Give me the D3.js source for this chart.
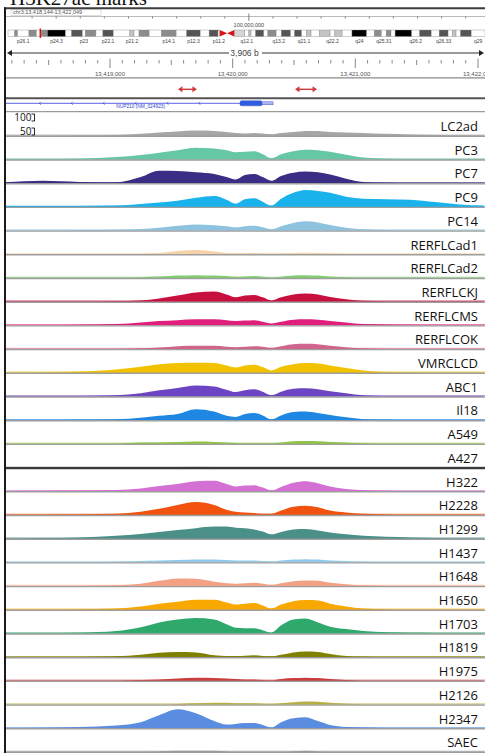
<!DOCTYPE html>
<html>
<head>
<meta charset="utf-8">
<script src="https://cdn.jsdelivr.net/npm/d3@7/dist/d3.min.js"></script>
<style>
  body { margin: 0; background: #fff; }
  svg { display: block; }
</style>
</head>
<body>
<script>
'use strict'

// view window on chr3
var viewStart = 13418144
var viewEnd = 13422049
var locusText = 'chr3:13,418,144-13,422,049'
var widthText = '3,906 b'
var rulerLabels = [13419000, 13420000, 13421000, 13422000]
var chromLength = 198.02 // Mb

// cytobands of chr3 (Mb)
var cytobands = [
  ['p26.3', 0, 2.8, 'gneg'], ['p26.2', 2.8, 4.0, 'gpos50'], ['p26.1', 4.0, 8.7, 'gneg'],
  ['p25.3', 8.7, 11.8, 'gpos50'], ['p25.2', 11.8, 13.3, 'gneg'], ['p25.1', 13.3, 16.4, 'gpos50'],
  ['p24.3', 16.4, 23.9, 'gpos100'], ['p24.2', 23.9, 26.4, 'gneg'], ['p24.1', 26.4, 30.9, 'gpos75'],
  ['p23', 30.9, 32.1, 'gneg'], ['p22.3', 32.1, 36.5, 'gpos50'], ['p22.2', 36.5, 39.4, 'gneg'],
  ['p22.1', 39.4, 43.7, 'gpos75'], ['p21.31', 43.7, 50.6, 'gneg'], ['p21.2', 50.6, 52.3, 'gpos25'],
  ['p21.1', 52.3, 54.4, 'gneg'], ['p14.3', 54.4, 58.6, 'gpos50'], ['p14.2', 58.6, 63.7, 'gneg'],
  ['p14.1', 63.7, 69.8, 'gpos50'], ['p13', 69.8, 74.2, 'gneg'], ['p12.3', 74.2, 79.8, 'gpos75'],
  ['p12.2', 79.8, 83.5, 'gneg'], ['p12.1', 83.5, 87.2, 'gpos75'], ['p11.2', 87.2, 87.9, 'gneg'],
  ['p11.1', 87.9, 91.0, 'acen'], ['q11.1', 91.0, 93.9, 'acen'], ['q11.2', 93.9, 98.3, 'gvar'],
  ['q12.1', 98.3, 100.0, 'gneg'], ['q12.2', 100.0, 100.9, 'gpos25'], ['q12.3', 100.9, 102.8, 'gneg'],
  ['q13.11', 102.8, 106.2, 'gpos75'], ['q13.12', 106.2, 107.9, 'gneg'], ['q13.13', 107.9, 111.3, 'gpos50'],
  ['q13.2', 111.3, 113.5, 'gneg'], ['q13.31', 113.5, 117.3, 'gpos75'], ['q13.32', 117.3, 119.0, 'gneg'],
  ['q13.33', 119.0, 121.9, 'gpos75'], ['q21.1', 121.9, 123.8, 'gneg'], ['q21.2', 123.8, 125.8, 'gpos25'],
  ['q21.3', 125.8, 129.2, 'gneg'], ['q22.1', 129.2, 133.7, 'gpos25'], ['q22.2', 133.7, 135.7, 'gneg'],
  ['q22.3', 135.7, 138.7, 'gpos25'], ['q23', 138.7, 142.8, 'gneg'], ['q24', 142.8, 148.9, 'gpos100'],
  ['q25.1', 148.9, 152.1, 'gneg'], ['q25.2', 152.1, 155.0, 'gpos50'], ['q25.31', 155.0, 157.0, 'gneg'],
  ['q25.32', 157.0, 159.0, 'gpos50'], ['q25.33', 159.0, 160.7, 'gneg'], ['q26.1', 160.7, 167.6, 'gpos100'],
  ['q26.2', 167.6, 170.9, 'gneg'], ['q26.31', 170.9, 175.7, 'gpos75'], ['q26.32', 175.7, 179.0, 'gneg'],
  ['q26.33', 179.0, 182.7, 'gpos75'], ['q27.1', 182.7, 184.5, 'gneg'], ['q27.2', 184.5, 186.0, 'gpos25'],
  ['q27.3', 186.0, 187.9, 'gneg'], ['q28', 187.9, 192.3, 'gpos75'], ['q29', 192.3, 198.02, 'gneg']
]
var bandLabels = ['p26.1', 'p24.3', 'p23', 'p22.1', 'p21.2', 'p14.1', 'p12.3', 'p11.2', 'q12.1',
  'q13.2', 'q21.1', 'q22.2', 'q24', 'q25.31', 'q26.2', 'q26.33', 'q29']

// peaks (red arrows) and gene model
var peakRegions = [[13419554, 13419709], [13420508, 13420688]]
var geneName = 'NUP210 (NM_024923)'
var geneSpan = [13418144, 13420329]
var geneExons = [[13420060, 13420239, 'cds'], [13420239, 13420329, 'utr']]

// sample positions of the signal (bp)
var positions = [13418150, 13418450, 13418750, 13419050, 13419250, 13419400, 13419550, 13419700,
  13419850, 13419950, 13420025, 13420100, 13420175, 13420245, 13420315, 13420395, 13420495,
  13420595, 13420695, 13420795, 13420925, 13421065, 13421250, 13421450, 13421650, 13421850, 13422045]

var cellLines = ['LC2ad', 'PC3', 'PC7', 'PC9', 'PC14', 'RERFLCad1', 'RERFLCad2', 'RERFLCKJ',
  'RERFLCMS', 'RERFLCOK', 'VMRCLCD', 'ABC1', 'Il18', 'A549', 'A427', 'H322', 'H2228', 'H1299',
  'H1437', 'H1648', 'H1650', 'H1703', 'H1819', 'H1975', 'H2126', 'H2347', 'SAEC']

var LC2ad = [0, 0, 1, 2, 7, 13, 18, 22, 20, 15, 11, 9, 11, 9, 5, 11, 15, 20, 20, 15, 13, 11, 7, 4, 2, 1, 1]
var PC3 = [0, 0, 2, 9, 18, 29, 40, 51, 48, 40, 31, 33, 35, 22, 4, 22, 35, 42, 40, 33, 20, 7, 2, 1, 0, 0, 0]
var PC7 = [2, 9, 4, 2, 26, 55, 53, 48, 40, 26, 15, 35, 40, 26, 9, 31, 46, 51, 48, 37, 18, 4, 1, 0, 0, 0, 0]
var PC9 = [2, 2, 2, 4, 11, 18, 26, 40, 48, 31, 13, 33, 37, 22, 4, 35, 62, 75, 70, 62, 44, 35, 33, 31, 20, 9, 4]
var PC14 = [0, 0, 1, 2, 5, 11, 20, 26, 22, 18, 13, 18, 20, 13, 4, 18, 33, 40, 35, 24, 11, 4, 1, 0, 0, 0, 0]
var RERFLCad1 = [0, 0, 0, 0, 0, 4, 13, 18, 11, 4, 2, 4, 4, 2, 1, 2, 4, 5, 4, 2, 0, 0, 0, 0, 0, 0, 0]
var RERFLCad2 = [0, 0, 0, 0, 2, 5, 9, 11, 9, 7, 4, 5, 7, 4, 1, 4, 9, 11, 9, 5, 2, 0, 0, 0, 0, 0, 0]
var RERFLCKJ = [0, 0, 0, 1, 4, 13, 26, 40, 44, 31, 18, 26, 29, 18, 4, 18, 31, 35, 31, 20, 9, 2, 0, 0, 0, 0, 0]
var RERFLCMS = [0, 0, 1, 4, 11, 18, 22, 26, 26, 22, 18, 20, 22, 15, 7, 15, 24, 26, 24, 18, 11, 4, 2, 1, 0, 0, 0]
var RERFLCOK = [0, 0, 0, 0, 2, 5, 11, 13, 13, 9, 7, 9, 11, 9, 4, 11, 20, 22, 20, 13, 7, 2, 0, 0, 0, 0, 0]
var VMRCLCD = [0, 1, 4, 13, 26, 37, 42, 44, 42, 31, 22, 31, 35, 24, 9, 26, 37, 42, 40, 31, 20, 9, 2, 1, 0, 0, 0]
var ABC1 = [0, 0, 1, 4, 13, 26, 37, 48, 44, 29, 18, 26, 31, 20, 4, 20, 33, 35, 31, 22, 13, 4, 1, 0, 0, 0, 0]
var Il18 = [0, 0, 1, 2, 9, 18, 26, 48, 37, 18, 13, 26, 31, 20, 2, 20, 35, 37, 31, 22, 11, 3, 1, 0, 0, 0, 0]
var A549 = [0, 0, 0, 0, 4, 5, 7, 9, 7, 4, 2, 1, 1, 1, 1, 4, 10, 11, 10, 7, 4, 1, 0, 0, 0, 0, 0]
var A427 = [0, 0, 0, 0, 0, 0, 1, 2, 1, 0, 0, 0, 0, 0, 0, 0, 0, 1, 0, 0, 0, 0, 0, 0, 0, 0, 0]
var H322 = [0, 1, 2, 4, 11, 22, 31, 44, 46, 31, 20, 24, 26, 15, 2, 18, 37, 44, 35, 20, 9, 4, 1, 0, 0, 0, 0]
var H2228 = [0, 1, 2, 4, 13, 26, 44, 57, 44, 22, 13, 9, 7, 4, 4, 18, 35, 40, 33, 18, 9, 4, 2, 1, 0, 0, 0]
var H1299 = [0, 1, 4, 11, 20, 29, 37, 46, 53, 53, 48, 46, 40, 31, 18, 29, 40, 42, 35, 26, 18, 11, 7, 4, 1, 0, 0]
var H1437 = [0, 0, 0, 1, 4, 7, 9, 11, 11, 9, 7, 7, 7, 4, 2, 7, 11, 13, 11, 7, 4, 1, 0, 0, 0, 0, 0]
var H1648 = [0, 0, 0, 2, 9, 22, 33, 31, 18, 11, 9, 11, 13, 9, 4, 11, 20, 24, 22, 13, 7, 2, 0, 0, 0, 0, 0]
var H1650 = [0, 0, 1, 4, 13, 26, 35, 44, 44, 31, 22, 26, 29, 18, 4, 22, 37, 42, 40, 26, 13, 4, 1, 0, 0, 0, 0]
var H1703 = [0, 1, 2, 9, 26, 48, 62, 68, 62, 40, 24, 22, 22, 13, 2, 35, 62, 66, 48, 29, 18, 9, 4, 2, 1, 0, 0]
var H1819 = [0, 0, 0, 2, 9, 18, 22, 20, 7, 4, 4, 5, 7, 4, 2, 9, 20, 24, 22, 13, 4, 1, 0, 0, 0, 0, 0]
var H1975 = [0, 0, 0, 0, 2, 5, 9, 12, 11, 9, 7, 5, 4, 2, 1, 7, 11, 13, 11, 7, 2, 0, 0, 0, 0, 0, 0]
var H2126 = [0, 0, 0, 0, 0, 0, 1, 4, 7, 7, 4, 4, 4, 2, 1, 4, 9, 12, 11, 7, 2, 0, 0, 0, 0, 0, 0]
var H2347 = [0, 1, 4, 11, 26, 57, 84, 66, 31, 15, 18, 22, 22, 13, 2, 26, 44, 48, 31, 13, 4, 2, 0, 0, 0, 0, 0]
var SAEC = [0, 0, 0, 0, 1, 2, 4, 4, 4, 2, 0, 0, 0, 0, 0, 0, 2, 4, 2, 0, 0, 0, 0, 0, 0, 0, 0]

var signals = [LC2ad, PC3, PC7, PC9, PC14, RERFLCad1, RERFLCad2, RERFLCKJ, RERFLCMS, RERFLCOK,
  VMRCLCD, ABC1, Il18, A549, A427, H322, H2228, H1299, H1437, H1648, H1650, H1703, H1819, H1975,
  H2126, H2347, SAEC]

var trackColors = ['#a6a6a6', '#66c7a4', '#3a2d85', '#19b2ea', '#8ec3df', '#f6d2a8', '#80cf6e',
  '#c8103e', '#e01f7d', '#d0668d', '#f2c200', '#6b45c2', '#1e86e3', '#8fc446', '#b0b0b0',
  '#d46fd4', '#f2520f', '#4a8f88', '#92c9ea', '#f2a184', '#f9a800', '#2fa96b', '#7f7f00',
  '#c93e3e', '#b9ae45', '#5a8de0', '#9a9a9a']
var stainColors = { gneg: '#ffffff', gpos25: '#c4c4c4', gpos50: '#8c8c8c', gpos75: '#555555', gpos100: '#000000', gvar: '#d6d6d6' }

var W = 485
var H = 753
var top0 = 112.3
var trackH = 23.7

var svg = d3.select('body').append('svg')
  .attr('width', W)
  .attr('height', H)

var x = d3.scaleLinear().domain([viewStart, viewEnd]).range([5, 484])
var ideoX = d3.scaleLinear().domain([0, chromLength]).range([8, 485])

// title, cut off at the top as in the source figure
svg.append('text')
  .attr('x', 10).attr('y', 5)
  .attr('font-family', 'Liberation Serif, serif')
  .attr('font-size', 21)
  .attr('fill', '#111')
  .text('H3K27ac marks')

// locus row
svg.append('rect')
  .attr('x', 11).attr('y', 9.8).attr('width', 90).attr('height', 5.6)
  .attr('fill', 'none').attr('stroke', '#bbb').attr('stroke-width', 0.5)
svg.append('text')
  .attr('x', 13).attr('y', 14)
  .attr('font-family', 'Liberation Sans, sans-serif')
  .attr('font-size', 5.5)
  .attr('fill', '#555')
  .text(locusText)
svg.append('line').attr('x1', 5).attr('x2', W).attr('y1', 16.5).attr('y2', 16.5)
  .attr('stroke', '#aaa').attr('stroke-width', 0.8)

var ideo = svg.append('g')
ideo.selectAll('.mtick')
  .data(d3.range(10, 200, 10))
  .enter().append('line')
  .attr('x1', function (d) { return ideoX(d) })
  .attr('x2', function (d) { return ideoX(d) })
  .attr('y1', function (d) { return d === 100 ? 13.5 : 16.5 })
  .attr('y2', function (d) { return d === 100 ? 21 : 18.5 })
  .attr('stroke', '#666').attr('stroke-width', 0.8)
ideo.append('text')
  .attr('x', ideoX(100)).attr('y', 27)
  .attr('text-anchor', 'middle')
  .attr('font-family', 'Liberation Sans, sans-serif')
  .attr('font-size', 5.5).attr('fill', '#444')
  .text('100,000,000')

// ideogram bands
ideo.selectAll('.band')
  .data(cytobands.filter(function (b) { return b[3] !== 'acen' }))
  .enter().append('rect')
  .attr('x', function (b) { return ideoX(b[1]) })
  .attr('width', function (b) { return ideoX(b[2]) - ideoX(b[1]) })
  .attr('y', 30).attr('height', 6.5)
  .attr('fill', function (b) { return stainColors[b[3]] })
  .attr('stroke', '#888').attr('stroke-width', 0.4)
ideo.selectAll('.acen')
  .data(cytobands.filter(function (b) { return b[3] === 'acen' }))
  .enter().append('path')
  .attr('d', function (b) {
    var from = b[0].charAt(0) === 'p' ? b[1] : b[2]
    var to = b[0].charAt(0) === 'p' ? b[2] : b[1]
    return 'M' + ideoX(from) + ',30L' + ideoX(to) + ',33.25L' + ideoX(from) + ',36.5Z'
  })
  .attr('fill', '#d11')
ideo.selectAll('.blab')
  .data(cytobands.filter(function (b) { return bandLabels.indexOf(b[0]) >= 0 }))
  .enter().append('text')
  .attr('x', function (b) { return ideoX((b[1] + b[2]) / 2) })
  .attr('y', 42.5)
  .attr('text-anchor', 'middle')
  .attr('font-family', 'Liberation Sans, sans-serif')
  .attr('font-size', 5).attr('fill', '#444')
  .text(function (b) { return b[0] })
ideo.append('line')
  .attr('x1', ideoX(viewStart / 1e6)).attr('x2', ideoX(viewStart / 1e6))
  .attr('y1', 28.5).attr('y2', 38)
  .attr('stroke', '#e00').attr('stroke-width', 1.3)

// width arrow row
var arrowY = 53
svg.append('line').attr('x1', 9).attr('x2', 229).attr('y1', arrowY).attr('y2', arrowY)
  .attr('stroke', '#333').attr('stroke-width', 1)
svg.append('line').attr('x1', 262).attr('x2', 481).attr('y1', arrowY).attr('y2', arrowY)
  .attr('stroke', '#333').attr('stroke-width', 1)
svg.append('path').attr('d', 'M7,' + arrowY + 'l5,-3v6z').attr('fill', '#222')
svg.append('path').attr('d', 'M484,' + arrowY + 'l-5,-3v6z').attr('fill', '#222')
svg.append('text')
  .attr('x', (x.range()[0] + x.range()[1]) / 2).attr('y', 56)
  .attr('text-anchor', 'middle')
  .attr('font-family', 'Liberation Sans, sans-serif')
  .attr('font-size', 8.5).attr('fill', '#444')
  .text(widthText)

// base-pair ruler
var ruler = svg.append('g')
ruler.selectAll('line')
  .data(d3.range(13418200, viewEnd, 100))
  .enter().append('line')
  .attr('x1', function (d) { return x(d) })
  .attr('x2', function (d) { return x(d) })
  .attr('y1', function (d) { return d % 1000 === 0 ? 58.5 : 60 })
  .attr('y2', function (d) { return d % 1000 === 0 ? 68 : (d % 500 === 0 ? 65 : 63.5) })
  .attr('stroke', '#555').attr('stroke-width', 0.7)
ruler.selectAll('text')
  .data(rulerLabels)
  .enter().append('text')
  .attr('x', function (d) { return x(d) })
  .attr('y', 75.5)
  .attr('text-anchor', 'middle')
  .attr('font-family', 'Liberation Sans, sans-serif')
  .attr('font-size', 6).attr('fill', '#555')
  .text(function (d) { return d3.format(',')(d) })
svg.append('line').attr('x1', 5).attr('x2', W).attr('y1', 77.8).attr('y2', 77.8)
  .attr('stroke', '#8a8a8a').attr('stroke-width', 1.3)

// peak arrows
var peaks = svg.append('g').attr('fill', '#d03a3a').attr('stroke', '#d03a3a')
peakRegions.forEach(function (p) {
  var a = x(p[0])
  var b = x(p[1])
  peaks.append('line').attr('x1', a + 3).attr('x2', b - 3).attr('y1', 89.3).attr('y2', 89.3)
    .attr('stroke-width', 1.4)
  peaks.append('path').attr('d', 'M' + a + ',89.3l4.5,-3v6z').attr('stroke', 'none')
  peaks.append('path').attr('d', 'M' + b + ',89.3l-4.5,-3v6z').attr('stroke', 'none')
})
svg.append('line').attr('x1', 5).attr('x2', W).attr('y1', 98.3).attr('y2', 98.3)
  .attr('stroke', '#555').attr('stroke-width', 2)

// gene model (minus strand)
var gene = svg.append('g')
gene.append('line')
  .attr('x1', x(geneSpan[0])).attr('x2', x(geneSpan[1]))
  .attr('y1', 103.3).attr('y2', 103.3)
  .attr('stroke', '#3040d8').attr('stroke-width', 0.8)
gene.selectAll('.chev')
  .data(d3.range(geneSpan[0] + 280, geneExons[0][0] - 100, 260))
  .enter().append('path')
  .attr('d', function (d) { return 'M' + (x(d) + 1.5) + ',101.8L' + x(d) + ',103.3L' + (x(d) + 1.5) + ',104.8' })
  .attr('fill', 'none').attr('stroke', '#3040d8').attr('stroke-width', 0.7)
gene.selectAll('rect')
  .data(geneExons)
  .enter().append('rect')
  .attr('x', function (e) { return x(e[0]) })
  .attr('width', function (e) { return x(e[1]) - x(e[0]) })
  .attr('y', function (e) { return e[2] === 'cds' ? 100.8 : 101.8 })
  .attr('height', function (e) { return e[2] === 'cds' ? 5 : 3 })
  .attr('rx', function (e) { return e[2] === 'cds' ? 1.5 : 0 })
  .attr('fill', function (e) { return e[2] === 'cds' ? '#2f5fe0' : '#a9b6f2' })
  .attr('stroke', '#2a3fc0').attr('stroke-width', 0.4)
gene.append('text')
  .attr('x', x(13419250)).attr('y', 108.3)
  .attr('text-anchor', 'middle')
  .attr('font-family', 'Liberation Sans, sans-serif')
  .attr('font-size', 4.8).attr('fill', '#3344cc')
  .text(geneName)
svg.append('line').attr('x1', 5).attr('x2', W).attr('y1', 111.6).attr('y2', 111.6)
  .attr('stroke', '#9a9a9a').attr('stroke-width', 1.4)

// signal tracks
var tracks = cellLines.map(function (name, i) {
  return { name: name, color: trackColors[i], values: signals[i] }
})

var g = svg.append('g')
tracks.forEach(function (t, i) {
  var bottom = top0 + (i + 1) * trackH
  var y = d3.scaleLinear().domain([0, 100]).range([bottom - 0.6, bottom - trackH + 1])
  var area = d3.area()
    .x(function (d, j) { return x(positions[j]) })
    .y0(bottom)
    .y1(function (d) { return y(d) })
    .curve(d3.curveMonotoneX)

  g.append('path').datum(t.values)
    .attr('d', area)
    .attr('fill', t.color)
  g.append('line')
    .attr('x1', 5).attr('x2', W)
    .attr('y1', bottom - 1).attr('y2', bottom - 1)
    .attr('stroke', t.color).attr('stroke-width', 0.8).attr('opacity', 0.8)
  g.append('line')
    .attr('x1', 5).attr('x2', W)
    .attr('y1', bottom + 0.3).attr('y2', bottom + 0.3)
    .attr('stroke', t.name === 'A427' ? '#3a3a3a' : '#9e9e9e')
    .attr('stroke-width', t.name === 'A427' ? 2.4 : 1.4)
  g.append('text')
    .attr('x', 478).attr('y', bottom - 5)
    .attr('text-anchor', 'end')
    .attr('font-family', 'Open Sans, sans-serif')
    .attr('font-size', 13)
    .attr('fill', '#111')
    .text(t.name)
})

// data range marks
var scaleMarks = [[100, 121, 114, 121], [50, 135, 128, 135]]
scaleMarks.forEach(function (m) {
  svg.append('text')
    .attr('x', 31.5).attr('y', m[1])
    .attr('text-anchor', 'end')
    .attr('font-family', 'Open Sans, sans-serif')
    .attr('font-size', 10).attr('fill', '#111')
    .text(m[0])
  svg.append('path')
    .attr('d', 'M31.5,' + m[2] + 'H34.5V' + m[3] + 'H31.5')
    .attr('fill', 'none').attr('stroke', '#111').attr('stroke-width', 0.9)
})

// frame
svg.append('line').attr('x1', 4).attr('x2', W).attr('y1', 8.3).attr('y2', 8.3)
  .attr('stroke', '#3c3c3c').attr('stroke-width', 2)
svg.append('line').attr('x1', 5).attr('x2', 5).attr('y1', 7.3).attr('y2', H)
  .attr('stroke', '#1a1a1a').attr('stroke-width', 2)
</script>
</body>
</html>
